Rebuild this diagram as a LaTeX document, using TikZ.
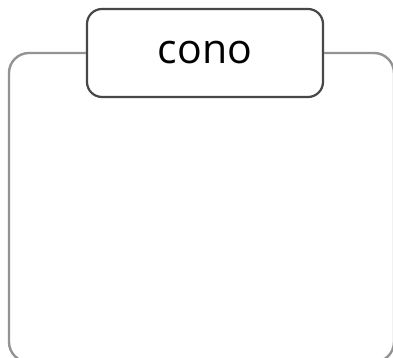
\documentclass[tikz,border=0pt]{standalone}
\usepackage{fontspec}
\setmainfont{Open Sans}

\definecolor{framegray}{HTML}{939395}
\definecolor{boxgray}{HTML}{474747}

\tikzset{
    titlebox/.style={draw=boxgray, line width=1.1pt, rounded corners=7.5pt,
        fill=white, minimum width=118pt, minimum height=44pt,
        inner sep=0pt, font=\fontsize{20.5}{24}\selectfont},
    frameline/.style={draw=framegray, line width=1.2pt, rounded corners=10pt}
}

\begin{document}
\begin{tikzpicture}[x=0.5pt, y=0.5pt]
    \useasboundingbox (0,0) rectangle (393,358);

    \node[titlebox] (cono) at (205,305) {cono};

    \coordinate (bl) at (9,-4);
    \coordinate (br) at (394,-4);

    \path[frameline] (cono.west) -- (cono.west -| bl) -- (bl) -- (br)
        -- (cono.east -| br) -- (cono.east);
\end{tikzpicture}
\end{document}
